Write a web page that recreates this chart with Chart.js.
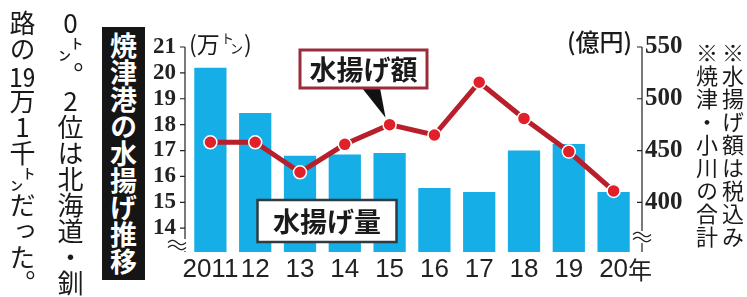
<!DOCTYPE html>
<html lang="ja">
<head>
<meta charset="utf-8">
<script src="https://cdn.jsdelivr.net/npm/chart.js@4.4.1/dist/chart.umd.min.js"></script>
<style>
  html, body { margin: 0; padding: 0; background: #fff; overflow: hidden; }
  #wrap { position: relative; width: 747px; height: 297px; }
  #chart { position: absolute; left: 0; top: 0; }
  .vert { position: absolute; writing-mode: vertical-rl; text-orientation: upright; font-family: 'Noto Sans CJK JP', sans-serif; color: #1a1a1a; white-space: nowrap; }
  .tcy { text-combine-upright: all; }
  #article { left: -2px; top: 10px; font-size: 26px; line-height: 48px; width: 96px; }
  #title { left: 102px; top: 27px; width: 43px; height: 253px; background: #151515; color: #fff; font-size: 27px; line-height: 43px; font-weight: bold; text-align: center; }
  #notes { left: 694px; top: 42px; font-size: 22px; line-height: 26px; width: 52px; letter-spacing: 1px; }
</style>
</head>
<body>
<div id="wrap">
  <canvas id="chart" width="747" height="297"></canvas>
  <div class="vert" id="article">0㌧。2位は北海道・釧<br>路の<span class="tcy">19</span>万1千㌧だった。</div>
  <div class="vert" id="title">焼津港の水揚げ推移</div>
  <div class="vert" id="notes">※水揚げ額は税込み<br>※焼津・小川の合計</div>
</div>
<script>
// 焼津港の水揚げ量（万トン）と水揚げ額（億円）
const years = ['2011', '12', '13', '14', '15', '16', '17', '18', '19', '20'];
const yearSuffix = '年';
const landings = [20.2, 18.45, 16.8, 16.85, 16.9, 15.55, 15.4, 17.0, 17.25, 15.4];
const landingValue = [458, 458, 429, 456, 475, 465, 516, 481, 449, 411];
const tonTicks = [14, 15, 16, 17, 18, 19, 20, 21];
const yenTicks = [400, 450, 500, 550];

const chartCanvas = document.getElementById('chart');

const drawWave = (ctx, x, y) => {
  ctx.save();
  ctx.fillStyle = '#fff';
  ctx.fillRect(x - 9, y - 6, 18, 12);
  ctx.strokeStyle = '#222';
  ctx.lineWidth = 1.4;
  [-2.5, 2.5].forEach(dy => {
    ctx.beginPath();
    for (let t = 0; t <= 18; t++) {
      const py = y + dy - 2.2 * Math.sin(t / 18 * Math.PI * 2);
      if (t === 0) ctx.moveTo(x - 9 + t, py);
      else ctx.lineTo(x - 9 + t, py);
    }
    ctx.stroke();
  });
  ctx.restore();
};

const drawTag = (ctx, text, cx, cy, w, h, border, lineWidth) => {
  ctx.save();
  ctx.fillStyle = '#fff';
  ctx.fillRect(cx - w / 2, cy - h / 2, w, h);
  ctx.strokeStyle = border;
  ctx.lineWidth = lineWidth;
  ctx.strokeRect(cx - w / 2, cy - h / 2, w, h);
  ctx.fillStyle = '#1a1a1a';
  ctx.font = 'bold 27px "Noto Sans CJK JP"';
  ctx.textAlign = 'center';
  ctx.textBaseline = 'middle';
  ctx.fillText(text, cx, cy + 1);
  ctx.restore();
};

// axis lines, breaks, year labels and the two name tags
const chartDecor = {
  id: 'chartDecor',
  afterDatasetsDraw(chart) {
    const { ctx, chartArea: area, scales } = chart;
    const leftX = area.left - 3;
    const rightX = area.right + 6;

    ctx.save();
    ctx.strokeStyle = '#222';
    ctx.lineWidth = 1.2;
    ctx.beginPath();
    ctx.moveTo(leftX, area.top);
    ctx.lineTo(leftX, area.bottom);
    ctx.moveTo(rightX, area.top);
    ctx.lineTo(rightX, area.bottom);
    tonTicks.forEach(v => {
      const py = scales.y.getPixelForValue(v);
      ctx.moveTo(leftX - 5, py);
      ctx.lineTo(leftX, py);
    });
    yenTicks.forEach(v => {
      const py = scales.y1.getPixelForValue(v);
      ctx.moveTo(rightX - 5, py);
      ctx.lineTo(rightX, py);
    });
    ctx.stroke();

    drawWave(ctx, leftX - 8, area.bottom - 7);
    drawWave(ctx, rightX, area.bottom - 15);

    // unit labels
    ctx.fillStyle = '#1a1a1a';
    ctx.textBaseline = 'middle';
    ctx.textAlign = 'left';
    ctx.font = '23px "Noto Sans CJK JP"';
    ctx.fillText('(万', area.left + 1, area.top - 3);
    ctx.font = '13px "Noto Sans CJK JP"';
    ctx.fillText('ト', area.left + 33, area.top - 9);
    ctx.fillText('ン', area.left + 42, area.top + 1);
    ctx.font = '23px "Noto Sans CJK JP"';
    ctx.fillText(')', area.left + 56, area.top - 3);
    ctx.textAlign = 'right';
    ctx.font = '500 24px "Noto Sans CJK JP"';
    ctx.fillText('(億円)', rightX - 10, area.top - 5);

    // year labels
    ctx.fillStyle = '#222';
    ctx.font = '26px "Liberation Sans"';
    ctx.textAlign = 'center';
    const labelY = area.bottom + 18;
    years.forEach((label, i) => {
      ctx.fillText(label, scales.x.getPixelForValue(i), labelY);
    });
    const lastX = scales.x.getPixelForValue(years.length - 1);
    const lastW = ctx.measureText(years[years.length - 1]).width;
    ctx.textAlign = 'left';
    ctx.font = '24px "Noto Sans CJK JP"';
    ctx.fillText(yearSuffix, lastX + lastW / 2, labelY);
    ctx.restore();

    // name tags
    drawTag(ctx, '水揚げ量', 327, 221, 139, 42, '#2f3b40', 2.5);
    const pt = chart.getDatasetMeta(1).data[4];
    ctx.save();
    ctx.fillStyle = '#111';
    ctx.beginPath();
    ctx.moveTo(362, 88);
    ctx.lineTo(380, 88);
    ctx.lineTo(pt.x - 4, pt.y - 7);
    ctx.closePath();
    ctx.fill();
    ctx.restore();
    drawTag(ctx, '水揚げ額', 363.5, 69, 127, 38, '#9b2d3a', 3);
  }
};

const landingChart = new Chart(chartCanvas, {
  type: 'bar',
  data: {
    labels: years,
    datasets: [
      {
        type: 'bar',
        label: '水揚げ量',
        data: landings,
        yAxisID: 'y',
        backgroundColor: '#16aee6',
        categoryPercentage: 1,
        barPercentage: 0.72,
        order: 2
      },
      {
        type: 'line',
        label: '水揚げ額',
        data: landingValue,
        yAxisID: 'y1',
        borderColor: '#b81f2b',
        borderWidth: 5,
        pointRadius: 6.5,
        pointBackgroundColor: '#e2202a',
        pointBorderColor: '#fff',
        pointBorderWidth: 1.5,
        tension: 0,
        order: 1
      }
    ]
  },
  options: {
    responsive: false,
    devicePixelRatio: 1,
    animation: false,
    layout: { padding: { top: 47, left: 0, right: 0, bottom: 0 } },
    plugins: {
      legend: { display: false },
      tooltip: { enabled: false }
    },
    scales: {
      x: {
        grid: { display: false, drawTicks: false },
        border: { display: false },
        ticks: { display: false },
        afterFit: scale => { scale.height = 45; }
      },
      y: {
        position: 'left',
        min: 13.08,
        max: 21,
        grid: { display: false, drawTicks: false },
        border: { display: false },
        afterBuildTicks: scale => { scale.ticks = tonTicks.map(v => ({ value: v })); },
        afterFit: scale => { scale.width = 188; },
        ticks: {
          autoSkip: false,
          padding: 12,
          color: '#222',
          font: { family: 'Liberation Serif', size: 23, weight: 'bold' }
        }
      },
      y1: {
        position: 'right',
        min: 352,
        max: 550,
        grid: { display: false, drawTicks: false },
        border: { display: false },
        afterBuildTicks: scale => { scale.ticks = yenTicks.map(v => ({ value: v })); },
        afterFit: scale => { scale.width = 111; },
        ticks: {
          autoSkip: false,
          padding: 9,
          color: '#222',
          font: { family: 'Liberation Serif', size: 25, weight: 'bold' }
        }
      }
    }
  },
  plugins: [chartDecor]
});
</script>
</body>
</html>
